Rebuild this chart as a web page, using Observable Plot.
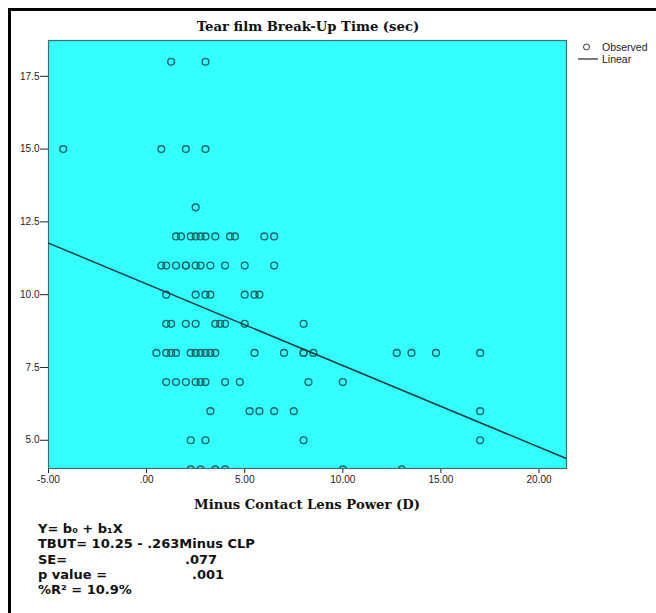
<!DOCTYPE html>
<html>
<head>
<meta charset="utf-8">
<script src="https://cdn.jsdelivr.net/npm/d3@7"></script>
<script src="https://cdn.jsdelivr.net/npm/@observablehq/plot@0.6"></script>
<style>
  html, body { margin: 0; padding: 0; background: #fff; }
  #wrap { position: relative; width: 656px; height: 613px; overflow: hidden; background: #fff; }
  #border { position: absolute; left: 8px; top: 8px; width: 700px; height: 700px;
            border-left: 3px solid #000; border-top: 3px solid #000; }
  #chart { position: absolute; left: 0; top: 0; }
  .serif { font-family: "DejaVu Serif", "Liberation Serif", serif; font-weight: bold; color: #111; }
  #title { position: absolute; left: 48px; width: 520px; top: 19px; text-align: center; font-size: 13.2px; line-height: 16px; }
  #xlabel { position: absolute; left: 48px; width: 518px; top: 497px; text-align: center; font-size: 13.2px; line-height: 16px; }
  #legend { position: absolute; left: 576px; top: 42px; font-family: "Liberation Sans", Arial, sans-serif; font-size: 10.5px; color: #222; }
  #legend div { height: 11.5px; line-height: 11.5px; white-space: nowrap; }
  #eq { position: absolute; left: 38px; top: 521px; font-family: "DejaVu Sans", Verdana, sans-serif; font-weight: bold;
        font-size: 13px; line-height: 15.3px; color: #111; }
  #eq div { position: relative; height: 15.3px; white-space: pre; }
  #eq span.v { position: absolute; top: 0; }
</style>
</head>
<body>
<div id="wrap">
  <div id="chart"></div>
  <div id="border"></div>
  <div id="title" class="serif">Tear film Break-Up Time (sec)</div>
  <div id="xlabel" class="serif">Minus Contact Lens Power (D)</div>
  <div id="legend">
    <div><svg width="26" height="11" style="vertical-align:top"><circle cx="10.5" cy="5" r="3" fill="none" stroke="#333" stroke-width="1"/></svg>Observed</div>
    <div><svg width="26" height="11" style="vertical-align:top"><line x1="2" x2="22" y1="5" y2="5" stroke="#222" stroke-width="1.2"/></svg>Linear</div>
  </div>
  <div id="eq"></div>
</div>
<script>
// Observed points: minus contact lens power (D) for each TBUT level (sec)
const tbutLevels = [18, 15, 13, 12, 11, 10, 9, 8, 7, 6, 5, 4];
const powerAt18 = [1.25, 3.0];
const powerAt15 = [-4.25, 0.75, 2.0, 3.0];
const powerAt13 = [2.5];
const powerAt12 = [1.5, 1.75, 2.25, 2.5, 2.75, 3.0, 3.5, 4.25, 4.5, 6.0, 6.5];
const powerAt11 = [0.75, 1.0, 1.5, 2.0, 2.0, 2.5, 2.75, 3.25, 4.0, 5.0, 6.5];
const powerAt10 = [1.0, 2.5, 3.0, 3.25, 5.0, 5.5, 5.75];
const powerAt9  = [1.0, 1.25, 2.0, 2.5, 3.5, 3.75, 4.0, 5.0, 8.0];
const powerAt8  = [0.5, 1.0, 1.25, 1.5, 2.25, 2.5, 2.75, 3.0, 3.25, 3.5, 5.5, 7.0, 8.0, 8.0, 8.5, 12.75, 13.5, 14.75, 17.0];
const powerAt7  = [1.0, 1.5, 2.0, 2.5, 2.75, 3.0, 4.0, 4.75, 8.25, 10.0];
const powerAt6  = [3.25, 5.25, 5.75, 6.5, 7.5, 17.0];
const powerAt5  = [2.25, 3.0, 8.0, 17.0];
const powerAt4  = [2.25, 2.75, 3.5, 4.0, 10.0, 13.0];
const powerRows = [powerAt18, powerAt15, powerAt13, powerAt12, powerAt11, powerAt10, powerAt9, powerAt8, powerAt7, powerAt6, powerAt5, powerAt4];

// Linear fit line as drawn (end points)
const fitX = [-5.0, 21.4];
const fitY = [11.77, 4.37];

// Axis ticks
const xTicks = [-5, 0, 5, 10, 15, 20];
const yTicks = [5, 7.5, 10, 12.5, 15, 17.5];
const xDomain = [-5, 21.4];
const yDomain = [4.03, 18.73];

// Equation text: label column and value column
const eqLabels = ["Y= b\u2080 + b\u2081X", "TBUT= 10.25 - .263Minus CLP", "SE=", "p value =", "%R\u00b2 = 10.9%"];
const eqValues = ["", "", ".077", ".001", ""];
const eqValueX = [0, 0, 147, 154, 0];

const points = [];
tbutLevels.forEach((t, i) => powerRows[i].forEach(p => points.push({power: p, tbut: t})));
const fit = fitX.map((x, i) => ({x, y: fitY[i]}));

const chart = Plot.plot({
  width: 656,
  height: 500,
  marginLeft: 48,
  marginRight: 90,
  marginTop: 40,
  marginBottom: 32,
  style: {fontFamily: "'Liberation Sans', Arial, sans-serif", fontSize: "10px", color: "#222", background: "transparent"},
  x: {domain: xDomain, ticks: xTicks, tickFormat: d => d === 0 ? ".00" : d.toFixed(2), tickSize: 5, tickPadding: 2, label: null},
  y: {domain: yDomain, ticks: yTicks, tickFormat: d => d.toFixed(1), tickSize: 8, tickPadding: 1, label: null},
  marks: [
    Plot.frame({fill: "#33ffff", stroke: "#3b6f70", strokeWidth: 1.2}),
    Plot.dot(points, {x: "power", y: "tbut", r: 3.4, stroke: "#1c6464", strokeWidth: 1.4, fill: "none", clip: true}),
    Plot.line(fit, {x: "x", y: "y", stroke: "#1b3b3b", strokeWidth: 1.5, clip: true})
  ]
});
document.getElementById("chart").appendChild(chart);

const eq = document.getElementById("eq");
eqLabels.forEach((lab, i) => {
  const row = document.createElement("div");
  row.textContent = lab;
  if (eqValues[i]) {
    const v = document.createElement("span");
    v.className = "v";
    v.style.left = eqValueX[i] + "px";
    v.textContent = eqValues[i];
    row.appendChild(v);
  }
  eq.appendChild(row);
});
</script>
</body>
</html>
